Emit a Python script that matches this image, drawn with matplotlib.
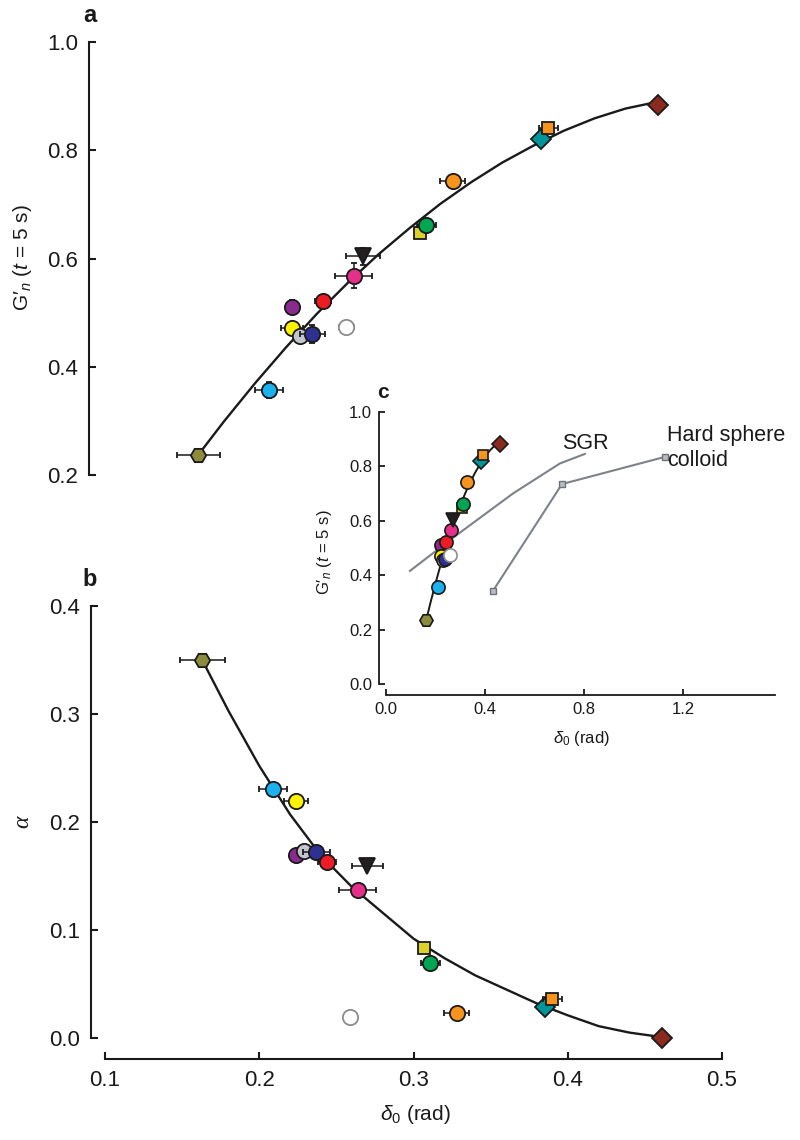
import matplotlib
matplotlib.use("Agg")
import matplotlib.pyplot as plt

plt.rcParams['font.family'] = ['Liberation Sans', 'DejaVu Sans']
plt.rcParams['mathtext.fontset'] = 'custom'
plt.rcParams['mathtext.rm'] = 'Liberation Sans'
plt.rcParams['mathtext.it'] = 'Liberation Sans:italic'

# samples: olive, cyan, purple, yellow, grey, blue, red, open, pink, triangle,
# yellow square, green, orange circle, teal diamond, orange square, dark red diamond
delta = [0.163, 0.209, 0.224, 0.224, 0.229, 0.237, 0.244, 0.259, 0.264, 0.270,
         0.307, 0.311, 0.328, 0.385, 0.390, 0.461]
g_n = [0.237, 0.357, 0.511, 0.472, 0.456, 0.460, 0.522, 0.473, 0.568, 0.604,
       0.648, 0.661, 0.743, 0.820, 0.841, 0.883]
alpha = [0.350, 0.231, 0.169, 0.219, 0.173, 0.172, 0.163, 0.019, 0.137, 0.159,
         0.083, 0.069, 0.023, 0.029, 0.036, 0.000]
xerr_a = [0.014, 0.009, 0.003, 0.007, 0.0, 0.008, 0.005, 0.005, 0.012, 0.011,
          0.003, 0.006, 0.008, 0.0, 0.006, 0.0]
yerr_a = [0.0, 0.015, 0.012, 0.0, 0.0, 0.017, 0.010, 0.0, 0.023, 0.016,
          0.008, 0.0, 0.0, 0.0, 0.0, 0.013]
xerr_b = [0.0145, 0.009, 0.003, 0.0078, 0.0, 0.0087, 0.006, 0.003, 0.012, 0.010,
          0.0, 0.006, 0.008, 0.0, 0.006, 0.0]
yerr_b = [0.005, 0.0, 0.0, 0.0, 0.0, 0.0, 0.0, 0.0, 0.0, 0.0,
          0.0, 0.0, 0.0, 0.0, 0.0, 0.0]

colors = ['#8c8c3c', '#1bb1ec', '#8b2a8e', '#fff200', '#c3c6cc', '#2e3192',
          '#ed1c24', '#ffffff', '#e62e8b', '#231f20', '#dcd22a', '#00a651',
          '#f7941d', '#00959a', '#f7941d', '#8b2a1e']
markers = ['H', 'o', 'o', 'o', 'o', 'o', 'o', 'o', 'o', 'v',
           's', 'o', 'o', 'D', 's', 'D']

# fitted curves
fit_d = [0.163, 0.18, 0.20, 0.22, 0.24, 0.26, 0.28, 0.30, 0.32, 0.34, 0.36,
         0.38, 0.40, 0.42, 0.44, 0.46]
fit_g = [0.237, 0.300, 0.370, 0.436, 0.498, 0.555, 0.608, 0.656, 0.701, 0.741,
         0.777, 0.808, 0.836, 0.859, 0.877, 0.889]
fit_alpha = [0.350, 0.303, 0.252, 0.207, 0.169, 0.140, 0.116, 0.092, 0.074,
             0.058, 0.045, 0.032, 0.021, 0.011, 0.005, 0.001]

sgr_d = [0.097, 0.286, 0.514, 0.703, 0.804]
sgr_g = [0.416, 0.548, 0.701, 0.811, 0.846]
hs_d = [0.432, 0.711, 1.127]
hs_g = [0.342, 0.735, 0.835]

W, H = 800, 1140
fig = plt.figure(figsize=(8, 11.4), dpi=100)


def rect(x0, y0, x1, y1):
    # pixel box (top-left origin) -> figure fraction
    return [x0 / W, 1 - y1 / H, (x1 - x0) / W, (y1 - y0) / H]


def px2pt(p):
    return p * 72 / 100


def draw_points(ax, ys, xerr, yerr, ms, errs=True):
    for i in range(len(delta)):
        ec = '#8c8c8c' if i == 7 else '#1a1a1a'
        mk = ms
        if markers[i] == 's':
            mk = ms * 0.75
        elif markers[i] == 'D':
            mk = ms * 0.88
        if errs:
            ax.errorbar(delta[i], ys[i],
                        xerr=xerr[i] if xerr[i] > 0 else None,
                        yerr=yerr[i] if yerr[i] > 0 else None,
                        fmt=markers[i], ms=mk, mfc=colors[i], mec=ec, mew=1.3,
                        ecolor=ec, elinewidth=1.1, capsize=2.2, capthick=1.1,
                        zorder=3 + i, clip_on=False)
        else:
            ax.plot(delta[i], ys[i], markers[i], ms=mk, mfc=colors[i], mec=ec,
                    mew=1.2, zorder=3 + i, clip_on=False)


# ---- panel a
axa = fig.add_axes(rect(101, 42, 718, 475))
axa.plot(fit_d, fit_g, color='#1a1a1a', lw=1.7, zorder=2, clip_on=False)
draw_points(axa, g_n, xerr_a, yerr_a, 11)
axa.set_xlim(0.1, 0.5)
axa.set_ylim(0.2, 1.0)
for s in ['top', 'right', 'bottom']:
    axa.spines[s].set_visible(False)
axa.spines['left'].set_position(('outward', px2pt(12)))
axa.spines['left'].set_linewidth(1.5)
axa.spines['left'].set_color('#1a1a1a')
axa.set_xticks([])
axa.set_yticks([0.2, 0.4, 0.6, 0.8, 1.0])
axa.set_yticklabels(['0.2', '0.4', '0.6', '0.8', '1.0'])
axa.tick_params(axis='y', direction='in', length=5, width=1.5, labelsize=16,
                pad=8, colors='#1a1a1a')
axa.patch.set_alpha(0)

# ---- panel b
axb = fig.add_axes(rect(105, 606, 722, 1038))
axb.plot(fit_d, fit_alpha, color='#1a1a1a', lw=1.7, zorder=2, clip_on=False)
draw_points(axb, alpha, xerr_b, yerr_b, 11)
axb.set_xlim(0.1, 0.5)
axb.set_ylim(0.0, 0.4)
for s in ['top', 'right']:
    axb.spines[s].set_visible(False)
axb.spines['left'].set_position(('outward', px2pt(14)))
axb.spines['bottom'].set_position(('outward', px2pt(21)))
for s in ['left', 'bottom']:
    axb.spines[s].set_linewidth(1.5)
    axb.spines[s].set_color('#1a1a1a')
axb.set_xticks([0.1, 0.2, 0.3, 0.4, 0.5])
axb.set_xticklabels(['0.1', '0.2', '0.3', '0.4', '0.5'])
axb.set_yticks([0.0, 0.1, 0.2, 0.3, 0.4])
axb.set_yticklabels(['0.0', '0.1', '0.2', '0.3', '0.4'])
axb.tick_params(direction='in', length=5, width=1.5, labelsize=16, pad=8,
                colors='#1a1a1a')
axb.patch.set_alpha(0)

# ---- inset c
axc = fig.add_axes(rect(386, 412, 782, 684))
axc.plot(sgr_d, sgr_g, color='#7d8288', lw=1.5, zorder=2)
axc.plot(hs_d, hs_g, color='#7d8288', lw=1.5, marker='s', ms=4.5,
         mfc='#b9bcc2', mec='#6e737a', mew=1.0, zorder=2)
axc.plot(fit_d, fit_g, color='#1a1a1a', lw=1.4, zorder=2)
draw_points(axc, g_n, None, None, 9.5, errs=False)
axc.set_xlim(0.0, 1.6)
axc.set_ylim(0.0, 1.0)
for s in ['top', 'right']:
    axc.spines[s].set_visible(False)
axc.spines['left'].set_position(('outward', px2pt(7)))
axc.spines['bottom'].set_position(('outward', px2pt(11)))
axc.spines['bottom'].set_bounds(0.0, 1.57)
for s in ['left', 'bottom']:
    axc.spines[s].set_linewidth(1.3)
    axc.spines[s].set_color('#1a1a1a')
axc.set_xticks([0.0, 0.4, 0.8, 1.2])
axc.set_xticklabels(['0.0', '0.4', '0.8', '1.2'])
axc.set_yticks([0.0, 0.2, 0.4, 0.6, 0.8, 1.0])
axc.set_yticklabels(['0.0', '0.2', '0.4', '0.6', '0.8', '1.0'])
axc.tick_params(direction='in', length=4, width=1.3, labelsize=12, pad=5,
                colors='#1a1a1a')
axc.patch.set_alpha(0)

axc.text(0.71, 0.885, 'SGR', fontsize=15.5, color='#1a1a1a', va='center')
axc.text(1.135, 0.868, 'Hard sphere\ncolloid', fontsize=15.5, color='#1a1a1a',
         va='center', linespacing=1.2)


def ftext(x, y, s, **kw):
    fig.text(x / W, 1 - y / H, s, ha='center', va='center', color='#1a1a1a', **kw)


ftext(90, 15, 'a', fontsize=17, weight='bold')
ftext(90, 580, 'b', fontsize=17, weight='bold')
ftext(383, 392, 'c', fontsize=15, weight='bold')
ftext(22, 258, "G′$_{n}$ ($t$ = 5 s)", fontsize=15, rotation=90)
ftext(23, 822, 'α', fontsize=17, rotation=90, family='Liberation Serif', style='italic')
ftext(415, 1114, r'$\delta_0$ (rad)', fontsize=15)
ftext(325, 552, "G′$_{n}$ ($t$ = 5 s)", fontsize=12, rotation=90)
ftext(581, 739, r'$\delta_0$ (rad)', fontsize=12)

fig.savefig('out.png', dpi=100)
